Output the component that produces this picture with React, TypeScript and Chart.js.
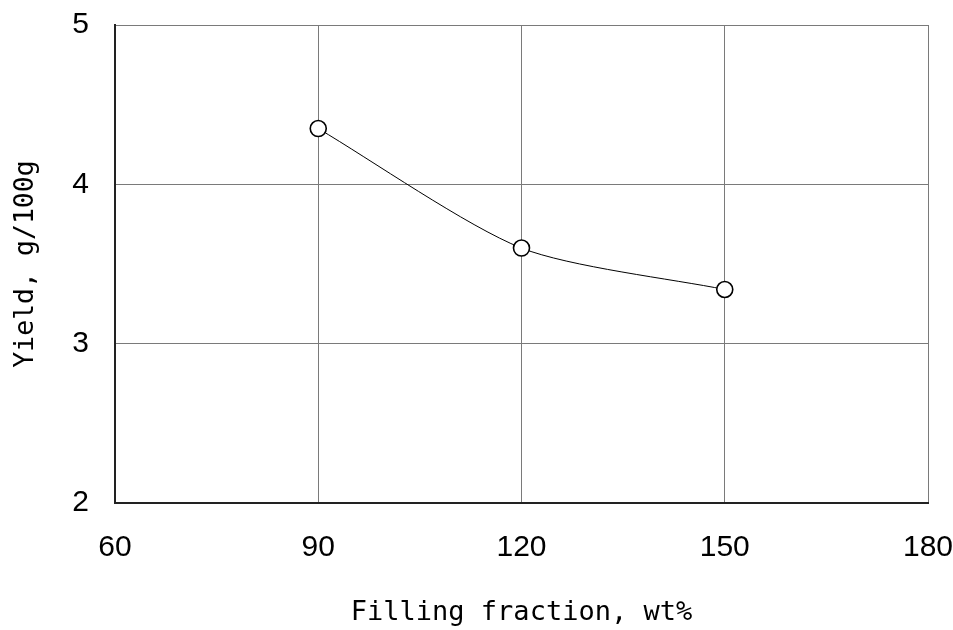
import React, { useEffect, useRef } from "react";
import { Chart, registerables } from "chart.js";

Chart.register(...registerables);

const fillingFraction = [90, 120, 150];
const yieldValues = [4.35, 3.6, 3.34];
const xTicks = [60, 90, 120, 150, 180];
const yTicks = [2, 3, 4, 5];
const xTitle = "Filling fraction, wt%";
const yTitle = "Yield, g/100g";

export default function App() {
  const ref = useRef<HTMLCanvasElement>(null);
  useEffect(() => {
    if (!ref.current) return;
    const chart = new Chart(ref.current, {
      type: "line",
      data: {
        datasets: [
          {
            data: fillingFraction.map((x, i) => ({ x, y: yieldValues[i] })),
            borderColor: "#000",
            borderWidth: 1,
            tension: 0.25,
            pointRadius: 8,
            pointBorderWidth: 1.6,
            pointBackgroundColor: "#fff",
            pointBorderColor: "#000",
            clip: false as any,
          },
        ],
      },
      options: {
        responsive: false,
        animation: false,
        layout: { padding: { top: 25, right: 25, left: 0, bottom: 0 } },
        plugins: { legend: { display: false }, tooltip: { enabled: false } },
        scales: {
          x: {
            type: "linear",
            min: 60,
            max: 180,
            afterBuildTicks: (s: any) => {
              s.ticks = xTicks.map((v) => ({ value: v }));
            },
            afterFit: (s: any) => {
              s.height = 127;
              s.paddingLeft = 0;
              s.paddingRight = 0;
            },
            grid: { color: "#7a7a7a", lineWidth: 1, drawTicks: false },
            border: { display: true, color: "#222", width: 2 },
            ticks: {
              color: "#000",
              padding: 27,
              maxRotation: 0,
              font: { family: "'Liberation Sans', Arial, sans-serif", size: 30 },
            },
            title: {
              display: true,
              text: xTitle,
              color: "#000",
              padding: { top: 0, bottom: 1 },
              font: { family: "'DejaVu Sans Mono', monospace", size: 27 },
            },
          },
          y: {
            type: "linear",
            min: 2,
            max: 5,
            afterBuildTicks: (s: any) => {
              s.ticks = yTicks.map((v) => ({ value: v }));
            },
            afterFit: (s: any) => {
              s.width = 115;
              s.paddingTop = 0;
              s.paddingBottom = 0;
            },
            grid: { color: "#7a7a7a", lineWidth: 1, drawTicks: false },
            border: { display: true, color: "#222", width: 2 },
            ticks: {
              color: "#000",
              padding: 26,
              font: { family: "'Liberation Sans', Arial, sans-serif", size: 30 },
            },
            title: {
              display: true,
              text: yTitle,
              color: "#000",
              padding: { top: 10, bottom: 0 },
              font: { family: "'DejaVu Sans Mono', monospace", size: 26.5 },
            },
          },
        },
      },
    });
    return () => chart.destroy();
  }, []);
  return (
    <canvas
      ref={ref}
      width={953}
      height={630}
      style={{ position: "absolute", left: 0, top: 0, width: 953, height: 630, background: "#fff" }}
    />
  );
}
